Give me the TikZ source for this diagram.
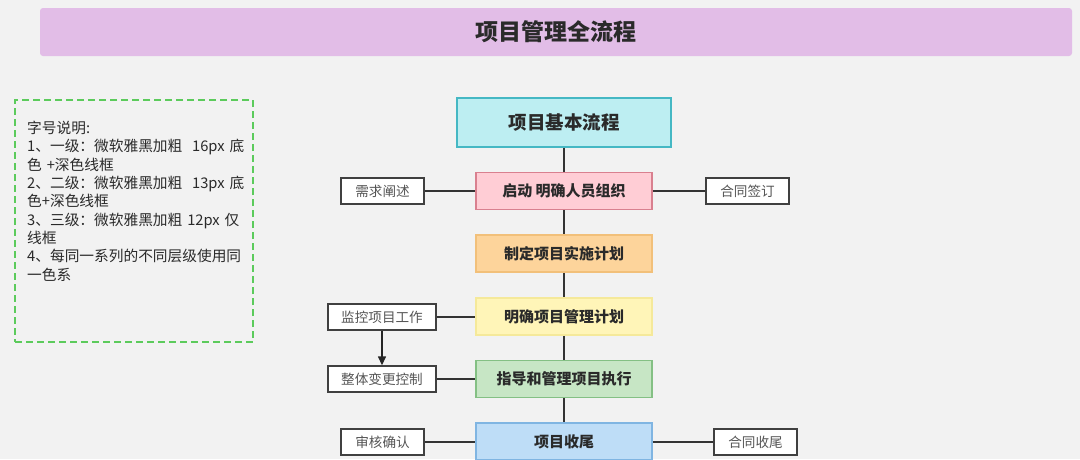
\documentclass[tikz,border=0pt]{standalone}
\usepackage{fontspec}
\setmainfont{Noto Sans CJK SC}
\usepackage{xcolor}
\usepackage{tikz}
\usetikzlibrary{positioning,arrows.meta}
\definecolor{PageBg}{HTML}{F2F2F2}
\definecolor{TitleBg}{HTML}{E2BDE7}
\definecolor{NoteGreen}{HTML}{5CCB5C}
\definecolor{CyanBg}{HTML}{BDEEF2}
\definecolor{CyanLine}{HTML}{45B8C4}
\definecolor{PinkBg}{HTML}{FFCDD5}
\definecolor{PinkLine}{HTML}{D9808F}
\definecolor{OrangeBg}{HTML}{FDD49B}
\definecolor{OrangeLine}{HTML}{F2C07A}
\definecolor{YellowBg}{HTML}{FFF5B8}
\definecolor{YellowLine}{HTML}{F5E99A}
\definecolor{GreenBg}{HTML}{C7E6C5}
\definecolor{GreenLine}{HTML}{84C084}
\definecolor{BlueBg}{HTML}{BEDDF7}
\definecolor{BlueLine}{HTML}{80B5E2}
\definecolor{InkDark}{HTML}{2A2A2A}
\definecolor{InkGray}{HTML}{555555}

\begin{document}
\begin{tikzpicture}[x=1pt,y=-1pt,
    mainbox/.style={draw, line width=1.8pt, minimum width=176pt, minimum height=37pt,
      text=InkDark, font=\fontsize{15}{17}\selectfont\bfseries},
    sidebox/.style={draw=black!75, fill=white, line width=1.4pt, minimum width=83pt,
      minimum height=26pt, text=InkGray, font=\fontsize{13.6}{15}\selectfont},
    link/.style={draw=black!80, line width=2pt}]
  % page and frame
  \fill[PageBg] (0,0) rectangle (1080,459);
  \useasboundingbox (0,0) rectangle (1080,459);
  \clip (0,0) rectangle (1080,459);

  % title bar
  \node[fill=TitleBg, rounded corners=3pt, minimum width=1032pt, minimum height=48pt,
    text=InkDark, font=\fontsize{23}{25}\selectfont\bfseries] (title) at (556,32) {项目管理全流程};

  % font size note
  \node[draw=NoteGreen, dashed, dash pattern=on 7pt off 4pt, line width=2pt,
    minimum width=238pt, minimum height=242pt] (note) at (134,221) {};
  \node[anchor=north west, text width=226pt, align=left, inner sep=0pt, text=InkDark,
    font=\fontsize{14.7}{18.3}\selectfont] (notetext) at (27,121) {%
    字号说明:\\
    1、一级：微软雅黑加粗\ \ 16px 底\\
    色 +深色线框\\
    2、二级：微软雅黑加粗\ \ 13px 底\\
    色+深色线框\\
    3、三级：微软雅黑加粗 12px 仅\\
    线框\\
    4、每同一系列的不同层级使用同\\
    一色系};

  % main flow
  \node[mainbox, fill=CyanBg, draw=CyanLine, minimum width=214pt, minimum height=49pt,
    font=\fontsize{18.5}{20}\selectfont\bfseries] (base) at (564,122.5) {项目基本流程};
  \node[mainbox, fill=PinkBg, draw=PinkLine] (start) at (564,191) {启动 明确人员组织};
  \node[mainbox, fill=OrangeBg, draw=OrangeLine] (plan) at (564,253.5) {制定项目实施计划};
  \node[mainbox, fill=YellowBg, draw=YellowLine] (mplan) at (564,316.5) {明确项目管理计划};
  \node[mainbox, fill=GreenBg, draw=GreenLine] (exec) at (564,379) {指导和管理项目执行};
  \node[mainbox, fill=BlueBg, draw=BlueLine] (close) at (564,441.5) {项目收尾};

  % side items
  \node[sidebox] (req) at (382.5,191) {需求阐述};
  \node[sidebox] (sign) at (747.5,191) {合同签订};
  \node[sidebox, minimum width=108pt] (monitor) at (382,317) {监控项目工作};
  \node[sidebox, minimum width=108pt] (change) at (382,379) {整体变更控制};
  \node[sidebox] (review) at (382.5,442) {审核确认};
  \node[sidebox] (cclose) at (755.5,442) {合同收尾};

  % connectors
  \draw[link] (base) -- (start);
  \draw[link] (start) -- (plan);
  \draw[link] (plan) -- (mplan);
  \draw[link] (mplan) -- (exec);
  \draw[link] (exec) -- (close);
  \draw[link] (req) -- (start);
  \draw[link] (start) -- (sign);
  \draw[link] (monitor) -- (monitor -| mplan.west);
  \draw[link] (change) -- (change -| exec.west);
  \draw[link] (review) -- (review -| close.west);
  \draw[link] (close.east |- cclose) -- (cclose);
  \draw[draw=black!85, line width=1.4pt, -{Triangle[length=9pt,width=8pt]}] (monitor) -- (change);
\end{tikzpicture}
\end{document}
